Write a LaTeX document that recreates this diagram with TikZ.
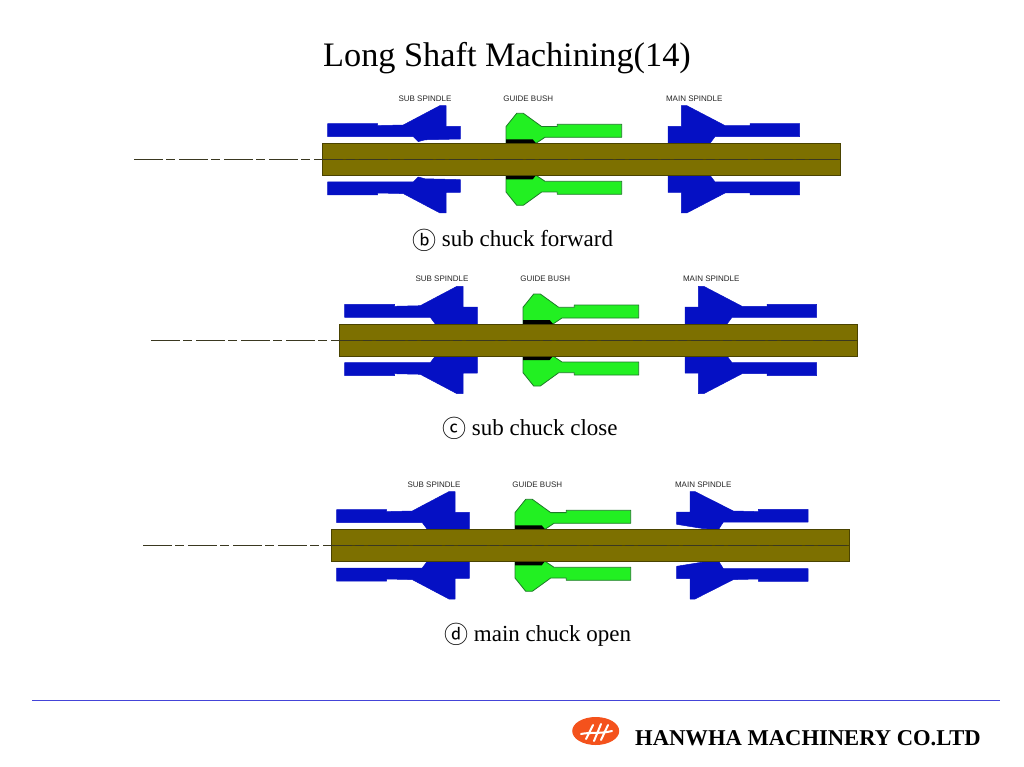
\documentclass[tikz,border=0pt]{standalone}
\usepackage{fontspec}
\usetikzlibrary{shapes.geometric}
\setmainfont{Liberation Serif}
\newfontfamily\lblfont{Liberation Sans}
\newfontfamily\circfont{Noto Sans CJK SC}
\definecolor{spindleblue}{HTML}{0510C4}
\definecolor{bushgreen}{HTML}{22F022}
\definecolor{bushedge}{HTML}{1E7A28}
\definecolor{shaftolive}{HTML}{7D7000}
\definecolor{shaftedge}{HTML}{4A4300}
\definecolor{centrecol}{HTML}{3A3820}
\definecolor{rulecol}{HTML}{4444D8}
\definecolor{logocol}{HTML}{F4521C}
\tikzset{
  x=1pt,y=-1pt,
  spindle/.style={fill=spindleblue,draw=spindleblue,line width=.5pt,line join=round},
  bush/.style={fill=bushgreen,draw=bushedge,line width=.8pt,line join=round},
  bushpad/.style={fill=black,draw=none},
  shaft/.style={fill=shaftolive,draw=shaftedge,line width=.9pt},
  centre/.style={draw=centrecol,line width=1pt,dash pattern=on 29pt off 3pt on 9pt off 4pt},
  tag/.style={font=\lblfont\fontsize{8}{9}\selectfont,text=black!85,inner sep=0pt},
  caption/.style={font=\fontsize{23}{26}\selectfont,inner sep=0pt,anchor=base west},
}
\newcommand{\circled}[1]{\raisebox{-2pt}{\circfont\fontsize{24}{26}\selectfont #1}}
\def\subopen{(327.7,22.7)--(327.7,35.7)--(377.7,35.7)--(377.7,33.7)--(403.3,34.3)--(440,53.7)--(446,53.7)--(446,33)--(460.3,33)--(460.3,20.3)--(425,19.5)--(418.3,17.7)--(413.3,22.7)--cycle}
\def\subclosed{(327.7,22.7)--(327.7,35.7)--(377.7,35.7)--(377.7,33.7)--(403.3,34.3)--(440,53.7)--(446,53.7)--(446,33)--(460.3,33)--(460.3,16)--(418.3,16)--(413.3,22.7)--cycle}
\def\mainclosed{(668,16)--(668,33)--(681.3,33)--(681.3,53.7)--(686.7,53.7)--(725,33.7)--(750,33.7)--(750,35.7)--(799.7,35.7)--(799.7,22.7)--(715,22.7)--(710,16)--cycle}
\def\mainopen{(667.7,21)--(667.7,33.3)--(681,33.3)--(681,53.7)--(686,53.7)--(724.3,34.3)--(749.3,33.7)--(749.3,36)--(799,36)--(799,23.3)--(714.3,23.3)--(709.7,16)--(694.3,16.7)--cycle}
\newcommand{\halfmachine}[2]{%
  \draw[spindle] #1;
  \draw[spindle] #2;
  \draw[bush] (506,16)--(506,32.7)--(516.7,46)--(523.3,46)--(541.7,32.7)--(557.3,32.7)--(557.3,35)--(621.7,35)--(621.7,22)--(545,22)--(536,16)--cycle;
  \fill[bushpad] (506,20)--(532.7,20)--(536,16)--(506,16)--cycle;
}
\newcommand{\machine}[6]{% dx, cy, sub, main, node prefix, caption position
  \begin{scope}[shift={(#1,#2)}]
    \halfmachine{#3}{#4}
    \begin{scope}[yscale=-1]\halfmachine{#3}{#4}\end{scope}
    \coordinate (#5l) at (134,0);
    \coordinate (#5s) at (322.3,0);
    \coordinate (#5r) at (840,0);
    \draw[shaft] (322.3,-16) rectangle (840,16);
    \draw[draw=shaftedge,line width=.8pt] (#5s)--(#5r);
    \draw[centre] (#5l)--(#5r);
    \node[tag] (#5sub) at (425,-60.8) {SUB SPINDLE};
    \node[tag] (#5bush) at (528.3,-60.8) {GUIDE BUSH};
    \node[tag] (#5main) at (694.3,-60.8) {MAIN SPINDLE};
  \end{scope}
  \node[caption] (#5cap) at (#6) {\captiontext};
}
\begin{document}
\begin{tikzpicture}
\useasboundingbox (0,0) rectangle (1024,767);
\fill[white] (0,0) rectangle (1024,767);
\node[inner sep=0pt,anchor=base,font=\fontsize{34.3}{38}\selectfont] (title) at (507,67) {Long Shaft Machining(14)};
\def\captiontext{\circled{ⓑ} sub chuck forward}
\machine{0}{159.3}{\subopen}{\mainclosed}{p}{412,247}
\def\captiontext{\circled{ⓒ} sub chuck close}
\machine{17}{340}{\subclosed}{\mainclosed}{q}{442,435}
\def\captiontext{\circled{ⓓ} main chuck open}
\machine{9}{545.3}{\subclosed}{\mainopen}{r}{444,641}
\coordinate (ruleL) at (32,700.5);
\coordinate (ruleR) at (1000,700.5);
\draw[rulecol,line width=1.2pt] (ruleL)--(ruleR);
\node[fill=logocol,ellipse,minimum width=47pt,minimum height=28pt,inner sep=0pt] (logo) at (595.7,731) {};
\begin{scope}[white,line width=2pt,line cap=round]
  \draw (581,734) .. controls (590,732) and (600,734) .. (612,731);
  \draw (586,739) -- (593,725);
  \draw (594,741) -- (601,724);
  \draw (601,740) -- (608,725);
\end{scope}
\node[anchor=base west,inner sep=0pt,font=\bfseries\fontsize{22.6}{25}\selectfont] (firm) at (635,745) {HANWHA MACHINERY CO.LTD};
\end{tikzpicture}
\end{document}
